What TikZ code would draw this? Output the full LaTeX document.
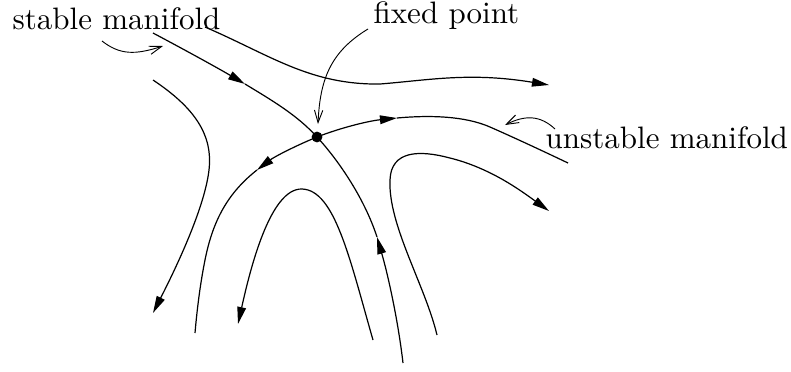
\documentclass[tikz,border=0pt]{standalone}
\usetikzlibrary{arrows.meta}
\begin{document}
\begin{tikzpicture}[x=0.3225pt,y=-0.3225pt,
  flow/.style={line width=0.39pt},
  tri/.tip={Triangle[length=5.5pt,width=2.8pt]},
  endarr/.style={flow,-{tri}},
  pointer/.style={line width=0.3pt,-{Straight Barb[length=4pt,width=2.7pt]}},
  lbl/.style={anchor=base west,inner sep=0pt,font=\fontsize{10}{12}\selectfont}]
\useasboundingbox (0,0) rectangle (791,371);
\coordinate (fp) at (317,137);
\coordinate (a1) at (245,84);
\coordinate (a2) at (377,237);
\coordinate (a3) at (257,170);
\coordinate (a4) at (397,118);
% stable manifold
\draw[endarr] (153,33) .. controls (185,50) and (216,67) .. (a1);
\draw[flow] (a1) .. controls (273,101) and (297,115) .. (fp);
\draw[endarr] (403,363) .. controls (398,320) and (388,275) .. (a2);
\draw[flow] (a2) .. controls (365,200) and (340,162) .. (fp);
% unstable manifold
\draw[endarr] (fp) .. controls (295,146) and (274,157) .. (a3);
\draw[flow] (a3) .. controls (225,195) and (212,225) .. (205,260) .. controls (200,285) and (197,310) .. (195,333);
\draw[endarr] (fp) .. controls (340,128) and (368,121) .. (a4);
\draw[flow] (a4) .. controls (430,115) and (465,116) .. (490,127) .. controls (515,138) and (545,152) .. (568,163);
% other orbits
\draw[endarr] (205,27) .. controls (270,55) and (310,85) .. (380,84) .. controls (430,80) and (470,72) .. (549,85);
\draw[endarr] (153,80) .. controls (195,108) and (213,135) .. (209,170) .. controls (205,205) and (180,260) .. (153,313);
\draw[endarr] (373,340) .. controls (350,260) and (335,190) .. (302,189) .. controls (270,188) and (250,270) .. (238,324);
\draw[endarr] (437,335) .. controls (425,285) and (388,225) .. (390,180) .. controls (391,150) and (420,150) .. (450,158) .. controls (490,168) and (520,190) .. (549,211);
% fixed point
\node[circle,fill=black,inner sep=0pt,minimum size=3.5pt] (fpdot) at (fp) {};
% labels
\node[lbl] (ls) at (12,29) {stable manifold};
\node[lbl] (lf) at (373,23) {fixed point};
\node[lbl] (lu) at (545,148) {unstable manifold};
% pointers
\draw[pointer] (102,41) .. controls (120,55) and (135,55) .. (163,46);
\draw[pointer] (368,29) .. controls (330,52) and (320,80) .. (318,124);
\draw[pointer] (555,129) .. controls (540,115) and (525,115) .. (505,125);
\end{tikzpicture}
\end{document}
